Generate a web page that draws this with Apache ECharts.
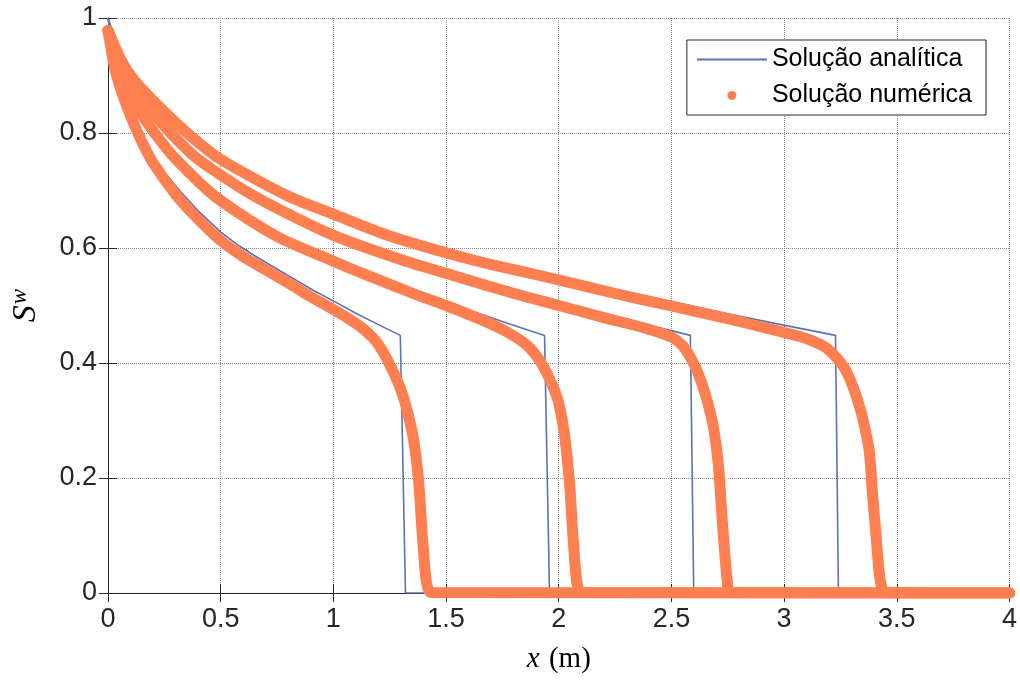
<!DOCTYPE html>
<html>
<head>
<meta charset="utf-8">
<script src="https://cdn.jsdelivr.net/npm/echarts@6/dist/echarts.min.js"></script>
<style>
  html, body { margin: 0; padding: 0; background: #fff; }
  #main { width: 1020px; height: 680px; }
</style>
</head>
<body>
<div id="main"></div>
<script>
// analytical profiles (x, Sw)
var anal1 = [[0,1],[0.005,0.985],[0.013,0.965],[0.026,0.938],[0.04,0.913],[0.065,0.882],[0.1,0.845],[0.143,0.805],[0.2,0.762],[0.259,0.728],[0.324,0.697],[0.399,0.665],[0.499,0.628],[0.584,0.603],[0.665,0.583],[0.778,0.557],[0.908,0.527],[0.999,0.508],[1.102,0.486],[1.193,0.468],[1.297,0.448],[1.32,0],[4,0]];
var anal2 = [[0,1],[0.008,0.985],[0.019,0.965],[0.039,0.938],[0.06,0.913],[0.097,0.882],[0.149,0.845],[0.213,0.805],[0.298,0.762],[0.387,0.728],[0.484,0.697],[0.597,0.665],[0.746,0.628],[0.872,0.603],[0.994,0.583],[1.162,0.557],[1.356,0.527],[1.491,0.508],[1.646,0.486],[1.782,0.468],[1.937,0.448],[1.959,0],[4,0]];
var anal3 = [[0,1],[0.01,0.985],[0.026,0.965],[0.052,0.938],[0.08,0.913],[0.129,0.882],[0.199,0.845],[0.284,0.805],[0.398,0.762],[0.517,0.728],[0.646,0.697],[0.796,0.665],[0.995,0.628],[1.163,0.603],[1.326,0.583],[1.55,0.557],[1.809,0.527],[1.99,0.508],[2.196,0.486],[2.377,0.468],[2.584,0.448],[2.599,0],[4,0]];
var anal4 = [[0,1],[0.013,0.985],[0.032,0.965],[0.065,0.938],[0.1,0.913],[0.161,0.882],[0.249,0.845],[0.355,0.805],[0.497,0.762],[0.646,0.728],[0.807,0.697],[0.994,0.665],[1.243,0.628],[1.453,0.603],[1.656,0.583],[1.937,0.557],[2.26,0.527],[2.486,0.508],[2.744,0.486],[2.97,0.468],[3.228,0.448],[3.241,0],[4,0]];

// numerical profiles (x, Sw)
var num1 = [[0,0.978],[0.01,0.955],[0.03,0.912],[0.06,0.872],[0.1,0.83],[0.15,0.785],[0.2,0.748],[0.3,0.693],[0.4,0.65],[0.5,0.613],[0.6,0.585],[0.7,0.562],[0.8,0.539],[0.9,0.515],[1.0,0.493],[1.08,0.474],[1.14,0.457],[1.19,0.437],[1.232,0.411],[1.265,0.385],[1.291,0.362],[1.315,0.335],[1.335,0.305],[1.352,0.275],[1.364,0.245],[1.379,0.191],[1.394,0.104],[1.408,0.034],[1.418,0.01],[1.432,0.001],[4,0]];
var num2 = [[0,0.978],[0.015,0.955],[0.04,0.915],[0.08,0.876],[0.15,0.832],[0.22,0.793],[0.3,0.755],[0.48,0.688],[0.75,0.62],[1.0,0.577],[1.16,0.551],[1.36,0.52],[1.5,0.5],[1.658,0.475],[1.76,0.456],[1.849,0.434],[1.9,0.413],[1.937,0.39],[1.97,0.363],[1.996,0.336],[2.013,0.305],[2.026,0.275],[2.048,0.191],[2.062,0.104],[2.077,0.028],[2.085,0.01],[2.095,0.001],[4,0]];
var num3 = [[0,0.978],[0.02,0.955],[0.05,0.92],[0.1,0.885],[0.2,0.835],[0.29,0.795],[0.4,0.754],[0.65,0.69],[1.0,0.622],[1.33,0.576],[1.55,0.55],[1.81,0.52],[2.0,0.5],[2.2,0.479],[2.38,0.461],[2.5,0.445],[2.55,0.43],[2.584,0.41],[2.615,0.385],[2.643,0.355],[2.667,0.322],[2.687,0.287],[2.709,0.22],[2.724,0.133],[2.739,0.057],[2.748,0.02],[2.758,0.001],[4,0]];
var num4 = [[0,0.978],[0.02,0.96],[0.06,0.925],[0.12,0.89],[0.25,0.837],[0.36,0.797],[0.5,0.754],[0.8,0.69],[1.0,0.659],[1.25,0.621],[1.65,0.576],[1.94,0.55],[2.26,0.52],[2.49,0.5],[2.75,0.477],[2.98,0.455],[3.07,0.446],[3.128,0.438],[3.18,0.428],[3.216,0.416],[3.25,0.401],[3.275,0.386],[3.304,0.36],[3.326,0.335],[3.348,0.305],[3.377,0.249],[3.392,0.173],[3.407,0.104],[3.422,0.034],[3.433,0.01],[3.446,0.001],[4,0]];

var blue = '#5a72b5';
var orange = '#ff7f50';
var axisColor = '#262626';
var font = 'Liberation Sans, Arial, Helvetica, sans-serif';
var serif = 'Liberation Serif, DejaVu Serif, serif';

function analSeries(d) {
    return {
        name: 'Solução analítica', type: 'line', data: d,
        showSymbol: false, symbol: 'none', animation: false,
        color: blue,
        lineStyle: { color: blue, width: 1.6 },
        z: 2
    };
}
function numSeries(d) {
    return {
        name: 'Solução numérica', type: 'line', data: d,
        showSymbol: false, symbol: 'none', animation: false,
        smooth: 0.25,
        color: orange,
        itemStyle: { color: orange },
        lineStyle: { color: orange, width: 11, cap: 'round', join: 'round' },
        z: 3
    };
}

var myChart = echarts.init(document.getElementById('main'));
myChart.setOption({
    animation: false,
    grid: { left: 104, right: 9, top: 18, bottom: 87 },
    legend: {
        right: 34, top: 40,
        orient: 'vertical',
        backgroundColor: '#fff',
        borderColor: axisColor, borderWidth: 1,
        padding: [7, 14, 7, 9],
        itemGap: 11,
        itemWidth: 70, itemHeight: 9,
        textStyle: { fontFamily: font, fontSize: 25, color: '#000' },
        data: [
            { name: 'Solução analítica', itemStyle: { opacity: 0 } },
            { name: 'Solução numérica', icon: 'circle' }
        ]
    },
    xAxis: [
        {
            type: 'value', min: 0, max: 4, interval: 0.5,
            name: '{i|x} {r|(m)}',
            nameLocation: 'middle', nameGap: 52,
            nameTextStyle: {
                rich: {
                    i: { fontFamily: serif, fontStyle: 'italic', fontSize: 29, color: '#000' },
                    r: { fontFamily: serif, fontSize: 29, color: '#000', padding: [0, 0, 0, 6] }
                }
            },
            axisLine: { show: true, lineStyle: { color: axisColor, width: 1 } },
            axisTick: { show: true, inside: true, length: 9, lineStyle: { color: axisColor } },
            axisLabel: { fontFamily: font, fontSize: 27, color: '#262626', margin: 13 },
            splitLine: { show: true, lineStyle: { type: 'dotted', color: '#8c8c8c', width: 1 } }
        },
        {
            type: 'value', min: 0, max: 4, interval: 0.5, position: 'top',
            axisLine: { show: true, lineStyle: { color: axisColor, width: 1 } },
            axisTick: { show: true, inside: true, length: 9, lineStyle: { color: axisColor } },
            axisLabel: { show: false },
            splitLine: { show: false }
        }
    ],
    yAxis: [
        {
            type: 'value', min: 0, max: 1, interval: 0.2,
            name: '{s|S}{w|w}',
            nameLocation: 'middle', nameGap: 63, nameRotate: 90,
            nameTextStyle: {
                rich: {
                    s: { fontFamily: serif, fontStyle: 'italic', fontSize: 34, color: '#000' },
                    w: { fontFamily: serif, fontStyle: 'italic', fontSize: 23, color: '#000', verticalAlign: 'top', padding: [0, 0, 14, 1] }
                }
            },
            axisLine: { show: true, lineStyle: { color: axisColor, width: 1 } },
            axisTick: { show: true, inside: true, length: 9, lineStyle: { color: axisColor } },
            axisLabel: { fontFamily: font, fontSize: 27, color: '#262626', margin: 11 },
            splitLine: { show: true, lineStyle: { type: 'dotted', color: '#8c8c8c', width: 1 } }
        },
        {
            type: 'value', min: 0, max: 1, interval: 0.2, position: 'right',
            axisLine: { show: true, lineStyle: { color: axisColor, width: 1 } },
            axisTick: { show: true, inside: true, length: 9, lineStyle: { color: axisColor } },
            axisLabel: { show: false },
            splitLine: { show: false }
        }
    ],
    series: [
        analSeries(anal1), analSeries(anal2), analSeries(anal3), analSeries(anal4),
        numSeries(num1), numSeries(num2), numSeries(num3), numSeries(num4)
    ]
});
</script>
</body>
</html>
